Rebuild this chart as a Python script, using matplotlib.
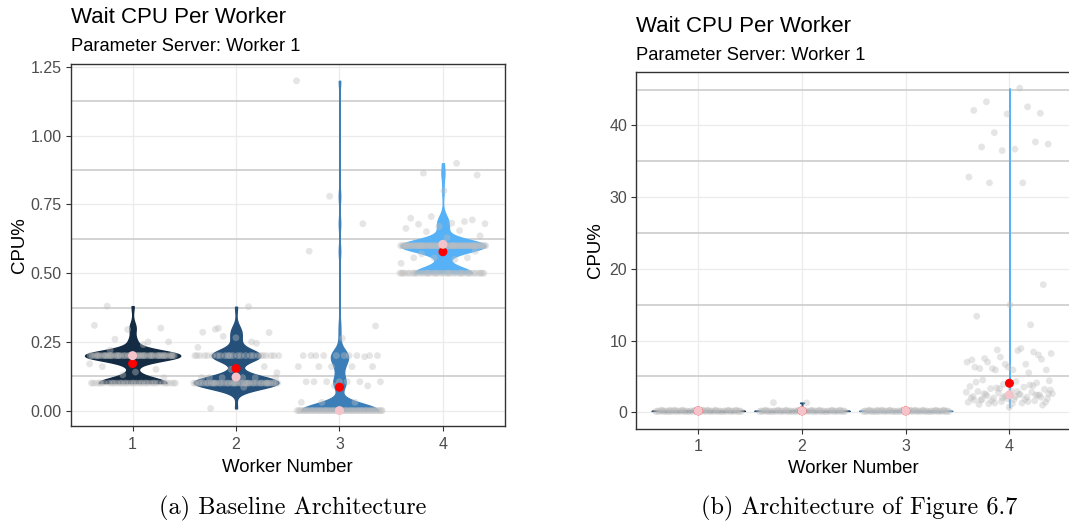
import numpy as np
import matplotlib
matplotlib.use("Agg")
import matplotlib.pyplot as plt
from matplotlib.ticker import FixedLocator

plt.rcParams['font.family'] = ['Liberation Sans', 'DejaVu Sans']

workers = [1, 2, 3, 4]
violin_colors = ['#132B43', '#24507A', '#3B7EB8', '#56B1F7']

# (a) baseline architecture - wait cpu per worker
base_w1 = [0.2] * 45 + [0.1] * 32 + [0.38, 0.30, 0.295, 0.31, 0.25, 0.26, 0.25, 0.14,
                                      0.16, 0.15, 0.13, 0.17, 0.24, 0.22, 0.12]
base_w2 = [0.1] * 38 + [0.12] * 6 + [0.2] * 24 + [0.378, 0.296, 0.284, 0.265, 0.285, 0.245,
                                                  0.27, 0.138, 0.085, 0.008, 0.16, 0.15,
                                                  0.23, 0.25, 0.3]
base_w3 = [0.0] * 55 + [0.2] * 10 + [0.196] + [0.16] * 5 + [0.105] * 7 + [0.09] * 2 + \
          [0.03] * 3 + [0.308, 0.263, 0.58, 0.68, 0.78, 1.2]
base_w4 = [0.6] * 60 + [0.5] * 42 + [0.9, 0.864, 0.857, 0.8, 0.7, 0.688, 0.706, 0.68, 0.682,
                                     0.678, 0.694, 0.67, 0.663, 0.655, 0.651, 0.636, 0.629,
                                     0.556, 0.556, 0.556, 0.536, 0.55, 0.57, 0.58]
base_means = [0.171, 0.153, 0.085, 0.578]
base_medians = [0.2, 0.122, 0.0, 0.605]

# (b) architecture of figure 6.7
fig_w1 = [0.2] * 30 + [0.1] * 25 + [0.3] * 10
fig_w2 = [0.2] * 30 + [0.1] * 25 + [0.3] * 8 + [1.3, 1.35]
fig_w3 = [0.2] * 30 + [0.1] * 25 + [0.3] * 10
fig_w4 = [45.2, 43.3, 41.7, 41.6, 42.1, 42.6, 39.0, 37.4, 36.7, 37.0, 37.7, 36.5, 32.8, 32.0, 32.0,
          17.8, 15.0, 13.4, 12.2, 8.7, 8.2, 8.6, 7.5, 8.0, 6.7, 7.3, 6.7, 6.1, 5.9, 5.9, 6.1,
          8.4, 7.7, 7.0, 8.9, 7.0, 7.4, 6.3, 6.3, 5.5, 5.9,
          4.4, 4.3, 4.5, 4.1, 3.9, 3.6, 3.5, 3.3, 3.2, 3.0, 2.9, 2.8, 2.7, 2.6, 2.5, 2.5, 2.4,
          2.3, 2.2, 2.1, 2.0, 1.9, 1.8, 1.7, 1.6, 1.5, 1.4, 1.3, 1.2, 1.0, 0.7,
          4.2, 3.8, 3.4, 3.1, 2.9, 2.6, 2.4, 2.2, 2.0, 1.8, 1.6, 1.4, 1.2, 1.1,
          3.7, 3.3, 2.8, 2.5, 2.3, 2.1, 1.9, 1.7, 1.5, 1.3, 2.6, 2.2, 1.8, 2.4, 2.0]
fig_means = [0.2, 0.2, 0.2, 4.05]
fig_medians = [0.2, 0.2, 0.2, 2.45]

base_data = [base_w1, base_w2, base_w3, base_w4]
fig_data = [fig_w1, fig_w2, fig_w3, fig_w4]


def kde_nrd0(vals, grid, adjust=0.85):
    v = np.asarray(vals, float)
    n = len(v)
    sd = np.std(v, ddof=1)
    iqr = np.subtract(*np.percentile(v, [75, 25]))
    lo = min(sd, iqr / 1.34) if iqr > 0 else sd
    bw = adjust * 0.9 * lo * n ** -0.2
    z = (grid[:, None] - v[None, :]) / bw
    return np.exp(-0.5 * z ** 2).sum(1) / (n * bw * np.sqrt(2 * np.pi))


def jitter(n, width=0.42):
    k = np.arange(1, n + 1)
    return ((k * 0.6180339887) % 1 - 0.5) * 2 * width


def draw_panel(ax, data, halves, means, medians, ylim, yticks, yfmt, minors):
    for x, vals, half, col in zip(workers, data, halves, violin_colors):
        v = np.asarray(vals, float)
        grid = np.linspace(v.min(), v.max(), 600)
        dens = kde_nrd0(v, grid)
        w = dens / dens.max() * half
        ax.fill_betweenx(grid, x - w, x + w, facecolor=col, edgecolor=col, lw=1.0, zorder=2)
    for x, vals in zip(workers, data):
        ax.scatter(x + jitter(len(vals)), vals, s=24, color='#BEBEBE', alpha=0.4,
                   edgecolors='none', zorder=3)
    ax.scatter(workers, means, s=42, color='red', edgecolors='none', zorder=4)
    ax.scatter(workers, medians, s=42, color='#F4C4CA', edgecolors='none', zorder=5)

    ax.set_xlim(0.4, 4.6)
    ax.set_ylim(*ylim)
    ax.set_xticks(workers)
    ax.set_yticks(yticks)
    ax.set_yticklabels([yfmt.format(t) for t in yticks])
    ax.yaxis.set_minor_locator(FixedLocator(minors))
    ax.set_axisbelow(True)
    ax.grid(which='major', color='#EBEBEB', lw=0.9)
    ax.grid(which='minor', axis='y', color='#C8C8C8', lw=1.1)
    ax.tick_params(which='minor', length=0)
    ax.tick_params(which='major', length=3.5, width=0.8, color='#333333',
                   labelcolor='#4D4D4D', labelsize=11.5, pad=3)
    ax.tick_params(axis='x', pad=4)
    for sp in ax.spines.values():
        sp.set_color('#333333')
        sp.set_linewidth(1.0)


fig = plt.figure(figsize=(10.69, 5.21), dpi=100)

ax1 = fig.add_axes([0.0660, 0.1816, 0.4064, 0.6960])
draw_panel(ax1, base_data, [0.46, 0.41, 0.37, 0.41], base_means, base_medians,
           (-0.0575, 1.262), [0, 0.25, 0.5, 0.75, 1.0, 1.25], '{:.2f}',
           [0.125, 0.375, 0.625, 0.875, 1.125])

ax2 = fig.add_axes([0.5950, 0.1770, 0.4075, 0.6850])
draw_panel(ax2, fig_data, [0.45, 0.46, 0.45, 0.004], fig_means, fig_medians,
           (-2.3, 47.47), [0, 10, 20, 30, 40], '{:.0f}',
           [5, 15, 25, 35, 45])

# titles and axis labels, ggplot style
fig.text(0.0660, 0.955, 'Wait CPU Per Worker', fontsize=16, va='baseline')
fig.text(0.0660, 0.902, 'Parameter Server: Worker 1', fontsize=13.2, va='baseline')
fig.text(0.2691, 0.0946, 'Worker Number', fontsize=13.4, ha='center', va='baseline')
fig.text(0.0178, 0.5296, 'CPU%', fontsize=13.4, rotation=90, ha='center', va='center')

fig.text(0.5950, 0.9386, 'Wait CPU Per Worker', fontsize=16, va='baseline')
fig.text(0.5950, 0.8848, 'Parameter Server: Worker 1', fontsize=13.2, va='baseline')
fig.text(0.7987, 0.0927, 'Worker Number', fontsize=13.4, ha='center', va='baseline')
fig.text(0.5566, 0.5194, 'CPU%', fontsize=13.4, rotation=90, ha='center', va='center')

# sub-figure captions
fig.text(0.2736, 0.0238, '(a) Baseline Architecture', fontsize=17.5, family='cmr10',
         ha='center', va='center')
fig.text(0.8041, 0.0238, '(b) Architecture of Figure 6.7', fontsize=17.5, family='cmr10',
         ha='center', va='center')

fig.savefig('out.png', dpi=100)
